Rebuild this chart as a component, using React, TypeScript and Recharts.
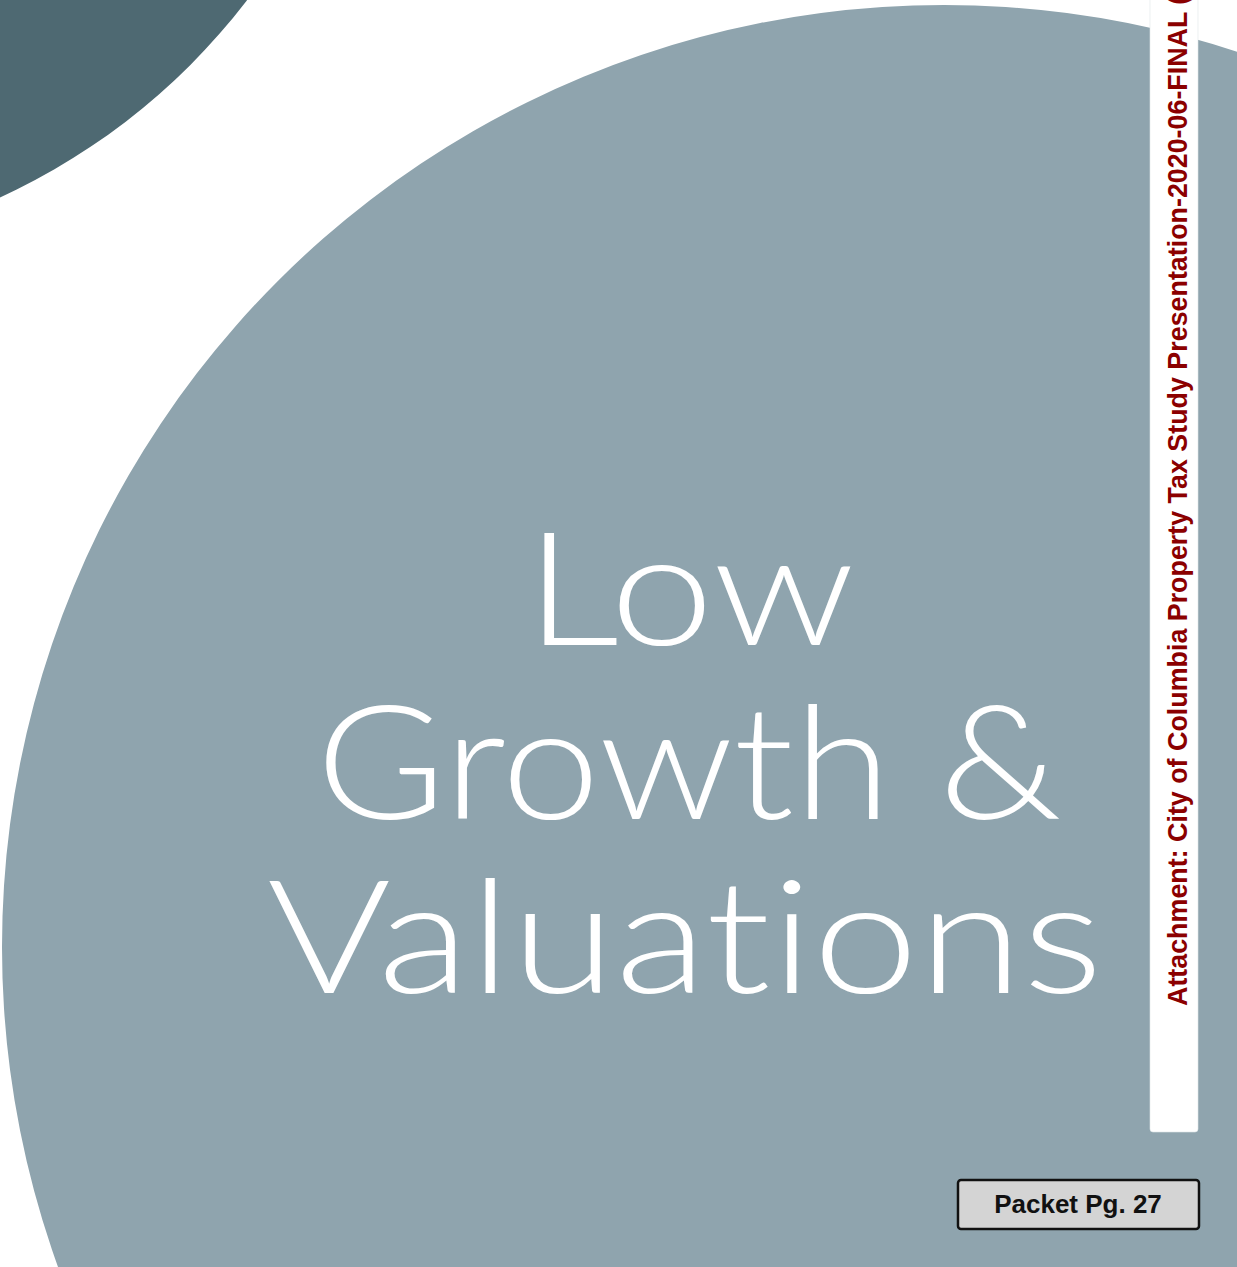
import React from 'react';
import { PieChart, Pie, Cell, Customized } from 'recharts';

// ---- content ----
const titleLines = ['Low', 'Growth &', 'Valuations'];
const attachmentText = 'Attachment: City of Columbia Property Tax Study Presentation-2020-06-FINAL (';
const packetLabel = 'Packet Pg. 27';

// decorative discs (single full slice each)
const cornerDisc = [{ name: 'corner', value: 1 }];
const mainDisc = [{ name: 'main', value: 1 }];

const W = 1237;
const H = 1267;

const DARK = '#4e6972';
const LIGHT = '#8fa4ae';

const titleLayout = [
  { cx: 690, base: 645, len: 330 },
  { cx: 689, base: 819, len: 746 },
  { cx: 685, base: 993, len: 836 },
];

const Overlay = () => (
  <g>
    {/* white side strip */}
    <rect x={1150} y={-6} width={48} height={1138} rx={3} ry={3} fill="#ffffff" stroke="#dfe5e8" strokeWidth={0.6} />
    <text
      transform="translate(1187,1006) rotate(-90)"
      fontFamily="'Liberation Sans', Arial, sans-serif"
      fontWeight={700}
      fontSize={26.85}
      fill="#8b0000"
    >
      {attachmentText}
    </text>

    {/* title */}
    {titleLines.map((t, i) => (
      <text
        key={t}
        x={titleLayout[i].cx}
        y={titleLayout[i].base}
        textAnchor="middle"
        fontFamily="Lato, 'Open Sans', sans-serif"
        fontWeight={300}
        fontSize={158}
        fill="#ffffff"
        textLength={titleLayout[i].len}
        lengthAdjust="spacingAndGlyphs"
        style={{ fontVariantLigatures: 'none', fontFeatureSettings: '"liga" 0, "clig" 0' }}
      >
        {t}
      </text>
    ))}

    {/* packet page box */}
    <rect x={958} y={1180} width={241} height={49} rx={3} ry={3} fill="#d4d4d4" stroke="#111111" strokeWidth={2.5} />
    <text
      x={1078}
      y={1213}
      textAnchor="middle"
      fontFamily="'Liberation Sans', Arial, sans-serif"
      fontWeight={700}
      fontSize={26}
      fill="#111111"
    >
      {packetLabel}
    </text>
  </g>
);

export default function App() {
  return (
    <div style={{ position: 'absolute', left: 0, top: 0, width: W, height: H, background: '#ffffff', overflow: 'hidden' }}>
      <div style={{ position: 'absolute', left: 0, top: 0 }}>
        <PieChart width={W} height={H} margin={{ top: 0, right: 0, bottom: 0, left: 0 }}>
          <Pie
            data={cornerDisc}
            dataKey="value"
            cx={-273}
            cy={-398}
            innerRadius={0}
            outerRadius={655}
            startAngle={90}
            endAngle={-270}
            stroke="none"
            label={false}
            labelLine={false}
            isAnimationActive={false}
          >
            {cornerDisc.map((d) => (
              <Cell key={d.name} fill={DARK} />
            ))}
          </Pie>
          <Pie
            data={mainDisc}
            dataKey="value"
            cx={944}
            cy={947}
            innerRadius={0}
            outerRadius={942}
            startAngle={90}
            endAngle={-270}
            stroke="none"
            label={false}
            labelLine={false}
            isAnimationActive={false}
          >
            {mainDisc.map((d) => (
              <Cell key={d.name} fill={LIGHT} />
            ))}
          </Pie>
        </PieChart>
      </div>
      <div style={{ position: 'absolute', left: 0, top: 0 }}>
        <PieChart width={W} height={H} margin={{ top: 0, right: 0, bottom: 0, left: 0 }}>
          <Customized component={Overlay} />
        </PieChart>
      </div>
    </div>
  );
}
